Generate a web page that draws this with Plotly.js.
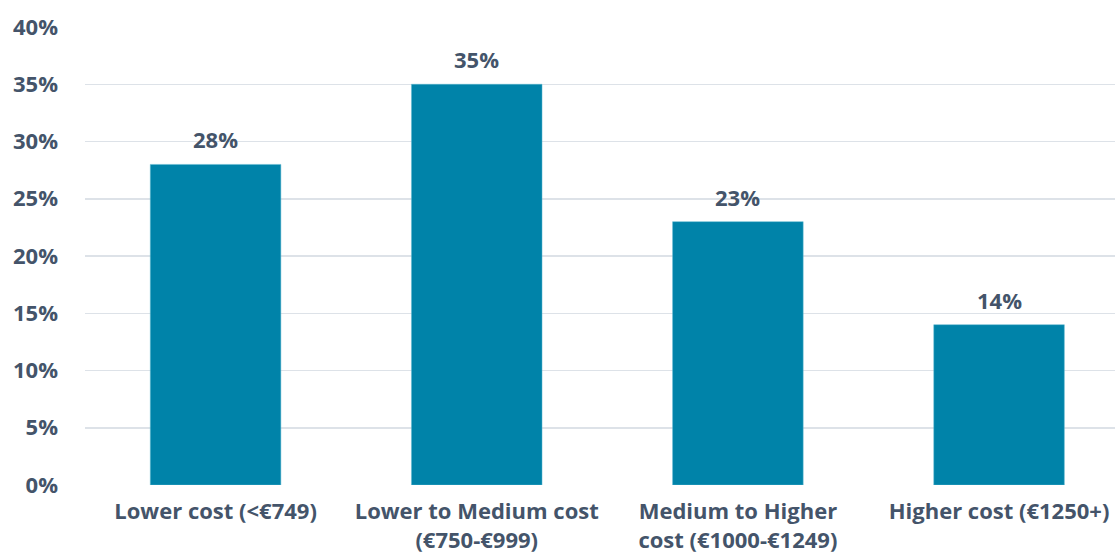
<!DOCTYPE html>
<html>
<head>
<meta charset="utf-8">
<script src="https://cdn.plot.ly/plotly-3.0.1.min.js"></script>
<style>html,body{margin:0;padding:0;background:#fff;}#chart{width:1115px;height:555px;}</style>
</head>
<body>
<div id="chart"></div>
<script>
const categories = ["Lower cost (&lt;€749)", "Lower to Medium cost<br>(€750-€999)", "Medium to Higher<br>cost (€1000-€1249)", "Higher cost (€1250+)"];
const shares = [28, 35, 23, 14];
const tickValues = [0, 5, 10, 15, 20, 25, 30, 35, 40];
const tickLabels = ["0%", "5%", "10%", "15%", "20%", "25%", "30%", "35%", "40%"];

const textColor = "#44546a";
const fontFam = "'Open Sans', sans-serif";
const fs = 22;

const trace = {
  type: "bar",
  x: [0, 1, 2, 3],
  y: shares,
  marker: {color: "#0083a9", line: {color: "#5fb8d0", width: 0.5}},
  hoverinfo: "skip"
};

const annotations = shares.map((v, i) => ({
  x: i, y: v, xref: "x", yref: "y",
  text: v + "%",
  showarrow: false,
  yanchor: "bottom",
  yshift: 8,
  font: {family: fontFam, size: fs, color: textColor, weight: 700}
}));

const layout = {
  width: 1115, height: 555,
  margin: {l: 85, r: 0, t: 27, b: 70},
  paper_bgcolor: "#fff",
  plot_bgcolor: "#fff",
  showlegend: false,
  bargap: 0.5,
  font: {family: fontFam, color: textColor, size: fs, weight: 700},
  xaxis: {
    range: [-0.5, 3.444],
    tickmode: "array",
    tickvals: [0, 1, 2, 3],
    ticktext: categories,
    showgrid: false,
    zeroline: false,
    showline: false,
    ticks: "",
    ticklabelstandoff: 11,
    tickfont: {family: fontFam, size: fs, color: textColor, weight: 700},
    fixedrange: true
  },
  yaxis: {
    range: [0, 40],
    tickmode: "array",
    tickvals: tickValues,
    ticktext: tickLabels,
    showgrid: true,
    gridcolor: "#dde2e8",
    gridwidth: 1.5,
    zeroline: false,
    showline: false,
    ticks: "",
    ticklabelstandoff: 26,
    tickfont: {family: fontFam, size: fs, color: textColor, weight: 700},
    fixedrange: true
  },
  annotations: annotations
};

Plotly.newPlot("chart", [trace], layout, {displayModeBar: false, staticPlot: true});
</script>
</body>
</html>
